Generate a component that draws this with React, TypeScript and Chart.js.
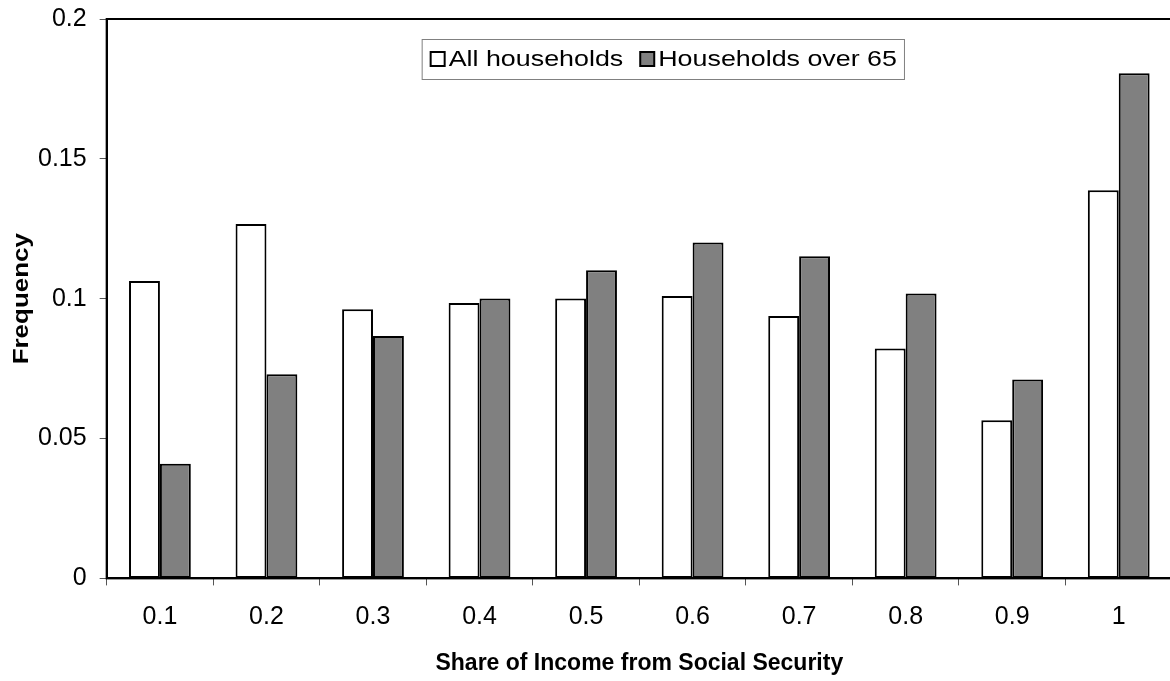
import React, { useEffect, useRef } from "react";
import { Chart, registerables } from "chart.js";

Chart.register(...registerables);

// Share-of-income buckets on the x axis
const categories = ["0.1", "0.2", "0.3", "0.4", "0.5", "0.6", "0.7", "0.8", "0.9", "1"];

// Frequency of each bucket
const allHouseholds = [0.1063, 0.1267, 0.0962, 0.0985, 0.1001, 0.101, 0.0938, 0.0822, 0.0565, 0.1388];
const householdsOver65 = [0.041, 0.073, 0.0867, 0.1001, 0.1102, 0.1201, 0.1152, 0.1019, 0.0711, 0.1806];

const seriesLabels = ["All households", "Households over 65"];
const seriesColors = ["#ffffff", "#808080"];

const yMin = 0;
const yMax = 0.2;
const yStep = 0.05;

const xTitle = "Share of Income from Social Security";
const yTitle = "Frequency";

const FONT = '"Liberation Sans", Arial, sans-serif';

// Border drawn around the whole plot area
const framePlugin = {
  id: "plotFrame",
  afterDatasetsDraw(chart: any) {
    const { ctx, chartArea } = chart;
    ctx.save();
    ctx.strokeStyle = "#000";
    ctx.lineWidth = 2;
    ctx.strokeRect(chartArea.left, chartArea.top, chartArea.right - chartArea.left, chartArea.bottom - chartArea.top);
    ctx.restore();
  },
};

// Rotated y-axis title, slightly widened
const yTitlePlugin = {
  id: "yTitle",
  afterDraw(chart: any) {
    const { ctx, chartArea } = chart;
    ctx.save();
    ctx.translate(22, (chartArea.top + chartArea.bottom) / 2);
    ctx.rotate(-Math.PI / 2);
    ctx.scale(1.18, 1);
    ctx.font = `bold 22px ${FONT}`;
    ctx.fillStyle = "#000";
    ctx.textAlign = "center";
    ctx.textBaseline = "middle";
    ctx.fillText(yTitle, 0, 0);
    ctx.restore();
  },
};

// Boxed legend sitting inside the plot area
const insideLegendPlugin = {
  id: "insideLegend",
  afterDraw(chart: any) {
    const { ctx, chartArea } = chart;
    const stretch = 1.22;
    const boxLeft = chartArea.left + 315;
    const boxTop = chartArea.top + 20;
    const boxH = 40;
    const sw = 14;
    ctx.save();
    ctx.font = `22px ${FONT}`;
    const items = chart.data.datasets.map((ds: any) => ({
      label: ds.label,
      color: ds.backgroundColor,
      w: ctx.measureText(ds.label).width * stretch,
    }));
    const padL = 9;
    const gapSwatch = 4;
    const gapItem = 17;
    let total = padL;
    items.forEach((it: any, i: number) => {
      total += sw + gapSwatch + it.w + (i < items.length - 1 ? gapItem : 0);
    });
    total += 7;
    ctx.fillStyle = "#fff";
    ctx.fillRect(boxLeft, boxTop, total, boxH);
    ctx.strokeStyle = "#808080";
    ctx.lineWidth = 1;
    ctx.strokeRect(boxLeft + 0.5, boxTop + 0.5, total, boxH);
    const cy = boxTop + boxH / 2;
    let x = boxLeft + padL;
    items.forEach((it: any) => {
      ctx.fillStyle = it.color;
      ctx.fillRect(x, cy - sw / 2, sw, sw);
      ctx.strokeStyle = "#000";
      ctx.lineWidth = 2;
      ctx.strokeRect(x, cy - sw / 2, sw, sw);
      x += sw + gapSwatch;
      ctx.save();
      ctx.translate(x, cy + 1);
      ctx.scale(stretch, 1);
      ctx.fillStyle = "#000";
      ctx.textAlign = "left";
      ctx.textBaseline = "middle";
      ctx.fillText(it.label, 0, 0);
      ctx.restore();
      x += it.w + gapItem;
    });
    ctx.restore();
  },
};

export default function App() {
  const canvasRef = useRef<HTMLCanvasElement | null>(null);

  useEffect(() => {
    if (!canvasRef.current) return;
    const chart = new Chart(canvasRef.current, {
      type: "bar",
      data: {
        labels: categories,
        datasets: [
          {
            label: seriesLabels[0],
            data: allHouseholds,
            backgroundColor: seriesColors[0],
            borderColor: "#000",
            borderWidth: 2,
            borderSkipped: false,
            categoryPercentage: 0.58,
            barPercentage: 1,
          },
          {
            label: seriesLabels[1],
            data: householdsOver65,
            backgroundColor: seriesColors[1],
            borderColor: "#000",
            borderWidth: 2,
            borderSkipped: false,
            categoryPercentage: 0.58,
            barPercentage: 1,
          },
        ],
      },
      options: {
        animation: false,
        responsive: false,
        devicePixelRatio: 1,
        layout: { padding: { top: 19, left: 25, right: 28, bottom: 0 } },
        plugins: {
          legend: { display: false },
          tooltip: { enabled: false },
          title: { display: false },
        },
        scales: {
          x: {
            offset: true,
            grid: {
              offset: true,
              drawOnChartArea: false,
              drawTicks: true,
              tickLength: 7,
              color: "#555",
              lineWidth: 1,
            },
            border: { display: true, color: "#000", width: 2 },
            ticks: {
              color: "#000",
              font: { family: FONT, size: 25 },
              padding: 17,
              maxRotation: 0,
            },
            title: {
              display: true,
              text: xTitle,
              color: "#000",
              font: { family: FONT, size: 23, weight: "bold" },
              padding: { top: 0, bottom: 4 },
            },
          },
          y: {
            min: yMin,
            max: yMax,
            afterFit: (scale: any) => {
              // let the layout padding alone decide the top edge of the plot
              scale.paddingTop = 0;
            },
            grid: {
              drawOnChartArea: false,
              drawTicks: true,
              tickLength: 7,
              color: "#555",
              lineWidth: 1,
            },
            border: { display: true, color: "#000", width: 2 },
            ticks: {
              stepSize: yStep,
              color: "#000",
              font: { family: FONT, size: 25 },
              padding: 13,
              callback: (v: any) => String(Number(Number(v).toFixed(2))),
            },
          },
        },
      },
      plugins: [framePlugin, yTitlePlugin, insideLegendPlugin],
    });
    return () => chart.destroy();
  }, []);

  return (
    <div
      style={{
        position: "absolute",
        left: 0,
        top: 0,
        width: 1170,
        height: 681,
        overflow: "hidden",
        background: "#fff",
      }}
    >
      <canvas ref={canvasRef} width={1200} height={681} style={{ display: "block" }} />
    </div>
  );
}
